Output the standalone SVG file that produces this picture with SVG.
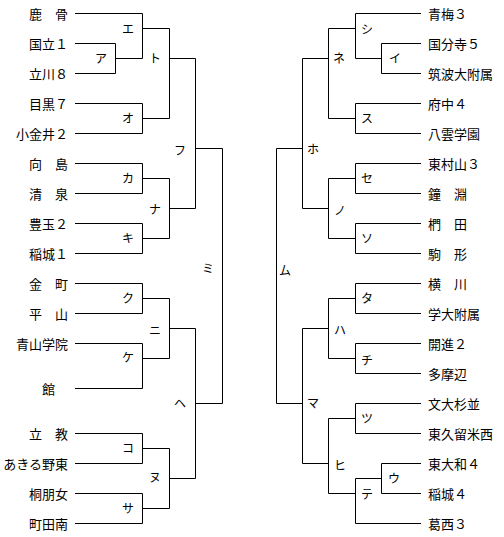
<svg xmlns="http://www.w3.org/2000/svg" width="504" height="537" viewBox="0 0 504 537">
<style>
.t{font-family:"Noto Sans CJK JP","Noto Sans CJK SC",sans-serif;font-size:13px;fill:#000}
.l{text-anchor:end}
.m{font-family:"Noto Sans CJK JP","Noto Sans CJK SC",sans-serif;font-size:12px;fill:#000;text-anchor:middle}
.c path{fill:none;stroke:#000;stroke-width:1}
</style>
<rect width="504" height="537" fill="#fff"/>
<g class="c" id="connectors">
<path d="M75,43.5H115.5V73.5H75M115.5,58.5H142.5"/>
<path d="M75,13.5H142.5V58.5M142.5,28.5H169.5"/>
<path d="M75,103.5H142.5V133.5H75M142.5,118.5H169.5"/>
<path d="M169.5,28.5V118.5M169.5,58.5H195.5"/>
<path d="M75,163.5H142.5V193.5H75M142.5,178.5H169.5"/>
<path d="M75,223.5H142.5V253.5H75M142.5,238.5H169.5"/>
<path d="M169.5,178.5V238.5M169.5,208.5H195.5"/>
<path d="M195.5,58.5V208.5M195.5,148.5H222.5"/>
<path d="M75,283.5H142.5V313.5H75M142.5,298.5H169.5"/>
<path d="M75,343.5H142.5V388.5H75M142.5,358.5H169.5"/>
<path d="M169.5,298.5V358.5M169.5,328.5H195.5"/>
<path d="M75,433.5H142.5V463.5H75M142.5,448.5H169.5"/>
<path d="M75,493.5H142.5V523.5H75M142.5,508.5H169.5"/>
<path d="M169.5,448.5V508.5M169.5,478.5H195.5"/>
<path d="M195.5,328.5V478.5M195.5,403.5H222.5"/>
<path d="M222.5,148.5V403.5"/>
<path d="M421,43.5H381.5V73.5H421M381.5,58.5H355.5"/>
<path d="M421,13.5H355.5V58.5M355.5,28.5H328.5"/>
<path d="M421,103.5H355.5V133.5H421M355.5,118.5H328.5"/>
<path d="M328.5,28.5V118.5M328.5,58.5H302.5"/>
<path d="M421,163.5H355.5V193.5H421M355.5,178.5H328.5"/>
<path d="M421,223.5H355.5V253.5H421M355.5,238.5H328.5"/>
<path d="M328.5,178.5V238.5M328.5,208.5H302.5"/>
<path d="M302.5,58.5V208.5M302.5,148.5H276.5"/>
<path d="M421,283.5H355.5V313.5H421M355.5,298.5H328.5"/>
<path d="M421,343.5H355.5V373.5H421M355.5,358.5H328.5"/>
<path d="M328.5,298.5V358.5M328.5,328.5H302.5"/>
<path d="M421,403.5H355.5V433.5H421M355.5,418.5H328.5"/>
<path d="M421,463.5H381.5V493.5H421M381.5,478.5H355.5"/>
<path d="M355.5,478.5V523.5H421M355.5,493.5H328.5"/>
<path d="M328.5,418.5V493.5M328.5,463.5H302.5"/>
<path d="M302.5,328.5V463.5M302.5,403.5H276.5"/>
<path d="M276.5,148.5V403.5"/>
</g>
<g id="team-L1"><text class="t l" x="68" y="18.5">鹿　骨</text></g>
<g id="team-L2"><text class="t l" x="68" y="48.5">国立１</text></g>
<g id="team-L3"><text class="t l" x="68" y="78.5">立川８</text></g>
<g id="team-L4"><text class="t l" x="68" y="108.5">目黒７</text></g>
<g id="team-L5"><text class="t l" x="68" y="138.5">小金井２</text></g>
<g id="team-L6"><text class="t l" x="68" y="168.5">向　島</text></g>
<g id="team-L7"><text class="t l" x="68" y="198.5">清　泉</text></g>
<g id="team-L8"><text class="t l" x="68" y="228.5">豊玉２</text></g>
<g id="team-L9"><text class="t l" x="68" y="258.5">稲城１</text></g>
<g id="team-L10"><text class="t l" x="68" y="288.5">金　町</text></g>
<g id="team-L11"><text class="t l" x="68" y="318.5">平　山</text></g>
<g id="team-L12"><text class="t l" x="68" y="348.5">青山学院</text></g>
<g id="team-L13"><text class="t l" x="55" y="393.5">館</text></g>
<g id="team-L14"><text class="t l" x="68" y="438.5">立　教</text></g>
<g id="team-L15"><text class="t l" x="68" y="468.5">あきる野東</text></g>
<g id="team-L16"><text class="t l" x="68" y="498.5">桐朋女</text></g>
<g id="team-L17"><text class="t l" x="68" y="528.5">町田南</text></g>
<g id="team-R1"><text class="t" x="428" y="18.5">青梅３</text></g>
<g id="team-R2"><text class="t" x="428" y="48.5">国分寺５</text></g>
<g id="team-R3"><text class="t" x="428" y="78.5">筑波大附属</text></g>
<g id="team-R4"><text class="t" x="428" y="108.5">府中４</text></g>
<g id="team-R5"><text class="t" x="428" y="138.5">八雲学園</text></g>
<g id="team-R6"><text class="t" x="428" y="168.5">東村山３</text></g>
<g id="team-R7"><text class="t" x="428" y="198.5">鐘　淵</text></g>
<g id="team-R8"><text class="t" x="428" y="228.5">椚　田</text></g>
<g id="team-R9"><text class="t" x="428" y="258.5">駒　形</text></g>
<g id="team-R10"><text class="t" x="428" y="288.5">横　川</text></g>
<g id="team-R11"><text class="t" x="428" y="318.5">学大附属</text></g>
<g id="team-R12"><text class="t" x="428" y="348.5">開進２</text></g>
<g id="team-R13"><text class="t" x="428" y="378.5">多摩辺</text></g>
<g id="team-R14"><text class="t" x="428" y="408.5">文大杉並</text></g>
<g id="team-R15"><text class="t" x="428" y="438.5">東久留米西</text></g>
<g id="team-R16"><text class="t" x="428" y="468.5">東大和４</text></g>
<g id="team-R17"><text class="t" x="428" y="498.5">稲城４</text></g>
<g id="team-R18"><text class="t" x="428" y="528.5">葛西３</text></g>
<g id="m-e"><text class="m" x="128" y="33.5">エ</text></g>
<g id="m-a"><text class="m" x="101" y="62.5">ア</text></g>
<g id="m-to"><text class="m" x="155" y="62.5">ト</text></g>
<g id="m-o"><text class="m" x="128" y="122.5">オ</text></g>
<g id="m-fu"><text class="m" x="180" y="154.5">フ</text></g>
<g id="m-ka"><text class="m" x="128" y="182.5">カ</text></g>
<g id="m-ki"><text class="m" x="128" y="242.5">キ</text></g>
<g id="m-na"><text class="m" x="155" y="213.5">ナ</text></g>
<g id="m-mi"><text class="m" x="208" y="272.5">ミ</text></g>
<g id="m-ku"><text class="m" x="128" y="302.5">ク</text></g>
<g id="m-ke"><text class="m" x="128" y="361.5">ケ</text></g>
<g id="m-ni"><text class="m" x="155" y="334.5">ニ</text></g>
<g id="m-he"><text class="m" x="180" y="407.5">ヘ</text></g>
<g id="m-ko"><text class="m" x="128" y="452.5">コ</text></g>
<g id="m-sa"><text class="m" x="128" y="512.5">サ</text></g>
<g id="m-nu"><text class="m" x="155" y="481.5">ヌ</text></g>
<g id="m-shi"><text class="m" x="367" y="33.5">シ</text></g>
<g id="m-i"><text class="m" x="395" y="62.5">イ</text></g>
<g id="m-su"><text class="m" x="367" y="122.5">ス</text></g>
<g id="m-ne"><text class="m" x="339" y="62.5">ネ</text></g>
<g id="m-ho"><text class="m" x="313" y="153.5">ホ</text></g>
<g id="m-se"><text class="m" x="367" y="182.5">セ</text></g>
<g id="m-so"><text class="m" x="367" y="242.5">ソ</text></g>
<g id="m-no"><text class="m" x="340" y="214.5">ノ</text></g>
<g id="m-mu"><text class="m" x="285" y="274.5">ム</text></g>
<g id="m-ta"><text class="m" x="367" y="302.5">タ</text></g>
<g id="m-chi"><text class="m" x="367" y="364.5">チ</text></g>
<g id="m-ha"><text class="m" x="340" y="334.5">ハ</text></g>
<g id="m-ma"><text class="m" x="313" y="407.5">マ</text></g>
<g id="m-tsu"><text class="m" x="367" y="422.5">ツ</text></g>
<g id="m-hi"><text class="m" x="340" y="469.5">ヒ</text></g>
<g id="m-u"><text class="m" x="394" y="482.5">ウ</text></g>
<g id="m-te"><text class="m" x="367" y="498.5">テ</text></g>
</svg>
